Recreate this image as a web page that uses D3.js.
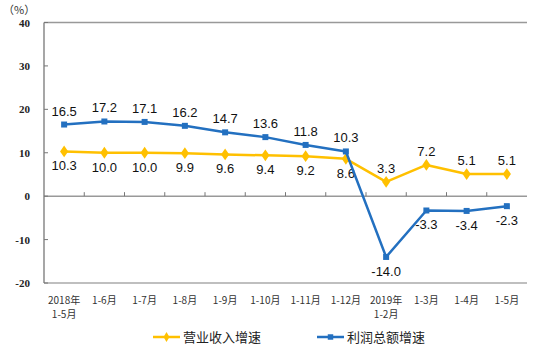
<!DOCTYPE html>
<html>
<head>
<meta charset="utf-8">
<script src="https://cdn.jsdelivr.net/npm/d3@7"></script>
<style>
  body { margin: 0; background: #fff; }
  svg { display: block; }
</style>
</head>
<body>
<svg id="chart"></svg>
<script>
// categories (two lines each)
const categories = [
  ['2018年', '1-5月'], ['1-6月'], ['1-7月'], ['1-8月'], ['1-9月'], ['1-10月'],
  ['1-11月'], ['1-12月'], ['2019年', '1-2月'], ['1-3月'], ['1-4月'], ['1-5月']
]
const revenue = [10.3, 10.0, 10.0, 9.9, 9.6, 9.4, 9.2, 8.6, 3.3, 7.2, 5.1, 5.1]
const profit = [16.5, 17.2, 17.1, 16.2, 14.7, 13.6, 11.8, 10.3, -14.0, -3.3, -3.4, -2.3]
// +1 label above, -1 below
const revenuePos = [-1, -1, -1, -1, -1, -1, -1, -1, 1, 1, 1, 1]
const profitPos = [1, 1, 1, 1, 1, 1, 1, 1, -1, -1, -1, -1]
const yTicks = [40, 30, 20, 10, 0, -10, -20]
const seriesNames = ['营业收入增速', '利润总额增速']

const width = 542, height = 352
const yellow = '#FFC000', blue = '#2370C0'
const plotLeft = 44, plotRight = 527, plotTop = 22.5, plotBottom = 283

const svg = d3.select('#chart').attr('width', width).attr('height', height)

const x = d3.scaleBand().domain(d3.range(categories.length)).range([plotLeft, plotRight])
const y = d3.scaleLinear().domain([-20, 40]).range([plotBottom, plotTop])
const cx = i => x(i) + x.bandwidth() / 2

// frame lines
svg.append('line').attr('x1', plotLeft).attr('x2', plotRight).attr('y1', y(40)).attr('y2', y(40))
    .attr('stroke', '#999').attr('stroke-width', 1.5)
svg.append('line').attr('x1', plotLeft).attr('x2', plotRight).attr('y1', y(-20)).attr('y2', y(-20))
    .attr('stroke', '#aaa').attr('stroke-width', 1.5)
svg.append('line').attr('x1', plotLeft).attr('x2', plotRight).attr('y1', y(0)).attr('y2', y(0))
    .attr('stroke', '#999').attr('stroke-width', 1.5)
svg.append('line').attr('x1', plotLeft).attr('x2', plotLeft).attr('y1', y(40)).attr('y2', y(-20))
    .attr('stroke', '#777').attr('stroke-width', 1.3)

// y ticks (inward)
yTicks.forEach(t => {
    svg.append('line').attr('x1', plotLeft).attr('x2', plotLeft + 4).attr('y1', y(t)).attr('y2', y(t))
        .attr('stroke', '#777').attr('stroke-width', 1)
    svg.append('text').attr('x', 30).attr('y', y(t) + 4)
        .attr('text-anchor', 'end')
        .style('font-family', '"Liberation Serif", serif').style('font-weight', 'bold')
        .style('font-size', '11px').attr('fill', '#222')
        .text(t)
})
// x ticks on zero line (upward)
for (let i = 1; i < categories.length; i++) {
    svg.append('line').attr('x1', x(i)).attr('x2', x(i)).attr('y1', y(0)).attr('y2', y(0) - 4)
        .attr('stroke', '#777').attr('stroke-width', 1)
}

svg.append('text').attr('x', 3).attr('y', 14)
    .style('font-family', '"Noto Sans CJK SC", sans-serif').style('font-size', '11px').attr('fill', '#333')
    .text('（%）')

// category labels
categories.forEach((c, i) => {
    c.forEach((s, k) => {
        svg.append('text').attr('x', cx(i)).attr('y', 304 + k * 14)
            .attr('text-anchor', 'middle')
            .style('font-family', '"Noto Sans CJK SC", sans-serif').style('font-size', '10px')
            .attr('fill', '#333').text(s)
    })
})

function drawSeries(data, pos, color, shape) {
    const line = d3.line().x((d, i) => cx(i)).y(d => y(d))
    svg.append('path').attr('d', line(data)).attr('fill', 'none')
        .attr('stroke', color).attr('stroke-width', 2.5).attr('stroke-linejoin', 'round')
    const sym = d3.symbol().type(shape === 'diamond' ? d3.symbolDiamond : d3.symbolSquare)
        .size(shape === 'diamond' ? 40 : 36)
    data.forEach((d, i) => {
        svg.append('path').attr('d', sym())
            .attr('transform', shape === 'diamond'
                ? `translate(${cx(i)},${y(d)}) scale(1.2,1)` : `translate(${cx(i)},${y(d)})`)
            .attr('fill', color)
        svg.append('text').attr('x', cx(i)).attr('y', y(d) - pos[i] * 14 + 5)
            .attr('text-anchor', 'middle')
            .style('font-family', '"Liberation Sans", Arial, sans-serif').style('font-size', '13px')
            .attr('fill', '#111').text(d.toFixed(1))
    })
}
drawSeries(revenue, revenuePos, yellow, 'diamond')
drawSeries(profit, profitPos, blue, 'square')

// legend
const legend = [
    {name: seriesNames[0], color: yellow, shape: d3.symbolDiamond, x: 153},
    {name: seriesNames[1], color: blue, shape: d3.symbolSquare, x: 317}
]
legend.forEach(l => {
    svg.append('line').attr('x1', l.x).attr('x2', l.x + 27).attr('y1', 337).attr('y2', 337)
        .attr('stroke', l.color).attr('stroke-width', 2.5)
    svg.append('path').attr('d', d3.symbol().type(l.shape).size(30)())
        .attr('transform', `translate(${l.x + 13.5},337)`).attr('fill', l.color)
    svg.append('text').attr('x', l.x + 30).attr('y', 342)
        .style('font-family', '"Noto Sans CJK SC", sans-serif').style('font-size', '13px')
        .attr('fill', '#222').text(l.name)
})
</script>
</body>
</html>
